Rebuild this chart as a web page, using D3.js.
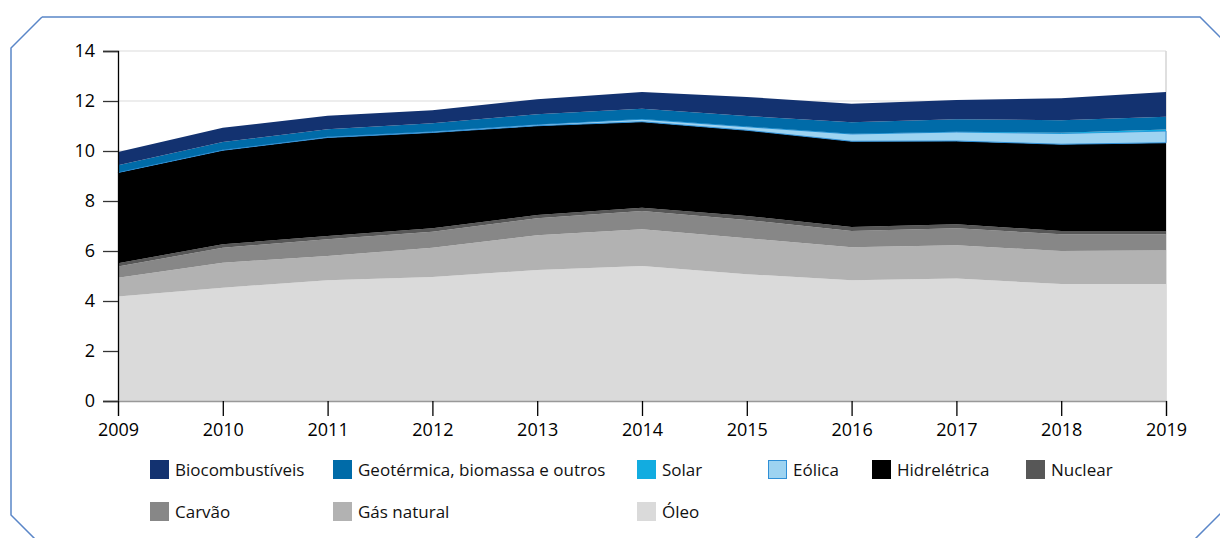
<!DOCTYPE html>
<html><head><meta charset="utf-8">
<script src="https://cdn.jsdelivr.net/npm/d3@7"></script>
<style>
html,body{margin:0;padding:0;background:#fff;}
svg{display:block;font-family:"Open Sans","Noto Sans",sans-serif;}
</style></head>
<body><svg id="c" width="1220" height="538"></svg>
<script>
const years = [2009,2010,2011,2012,2013,2014,2015,2016,2017,2018,2019];
const oleo     = [4.18,4.53,4.83,4.96,5.24,5.40,5.07,4.83,4.90,4.68,4.68];
const gas      = [0.75,1.00,0.97,1.17,1.39,1.47,1.44,1.32,1.33,1.32,1.35];
const carvao   = [0.45,0.60,0.67,0.64,0.68,0.73,0.73,0.65,0.68,0.67,0.64];
const nuclear  = [0.13,0.14,0.13,0.14,0.13,0.13,0.16,0.16,0.16,0.13,0.13];
const hidro    = [3.63,3.76,3.94,3.83,3.57,3.44,3.43,3.43,3.33,3.47,3.53];
const eolica   = [0.01,0.02,0.03,0.04,0.05,0.10,0.14,0.29,0.36,0.43,0.47];
const solar    = [0.00,0.00,0.00,0.00,0.00,0.01,0.01,0.01,0.01,0.03,0.06];
const geo      = [0.28,0.31,0.30,0.33,0.41,0.41,0.42,0.46,0.50,0.50,0.51];
const bio      = [0.53,0.57,0.54,0.52,0.60,0.67,0.76,0.74,0.77,0.88,0.99];
const yTicks = [0,2,4,6,8,10,12,14];

const series = [
  {key:"oleo", name:"Óleo", values:oleo, color:"#dadada"},
  {key:"gas", name:"Gás natural", values:gas, color:"#b2b2b2"},
  {key:"carvao", name:"Carvão", values:carvao, color:"#878787"},
  {key:"nuclear", name:"Nuclear", values:nuclear, color:"#575757"},
  {key:"hidro", name:"Hidrelétrica", values:hidro, color:"#000000"},
  {key:"eolica", name:"Eólica", values:eolica, color:"#9dd3f1", stroke:"#2f8fd6"},
  {key:"solar", name:"Solar", values:solar, color:"#12ace0"},
  {key:"geo", name:"Geotérmica, biomassa e outros", values:geo, color:"#006ba8"},
  {key:"bio", name:"Biocombustíveis", values:bio, color:"#133270"}
];

const table = years.map((yr,i)=>{const o={year:yr}; series.forEach(s=>o[s.key]=s.values[i]); return o;});
const stack = d3.stack().keys(series.map(s=>s.key));
const layers = stack(table);

const svg = d3.select("#c");
const x = d3.scaleLinear().domain([2009,2019]).range([118,1166]);
const y = d3.scaleLinear().domain([0,14]).range([401,51]);

// frame
svg.append("path")
  .attr("d", d3.line()([[42,17],[1200,17],[1240,57],[1240,494],[1189,545],[41,545],[11,515],[11,48],[42,17]]))
  .attr("fill","none").attr("stroke","#5a86c8").attr("stroke-width",1.5);

// gridlines
svg.append("g").selectAll("line").data(yTicks).join("line")
  .attr("x1",x(2009)).attr("x2",x(2019)).attr("y1",d=>y(d)).attr("y2",d=>y(d))
  .attr("stroke","#dcdcdc").attr("stroke-width",1.2);
svg.append("line").attr("x1",x(2019)).attr("x2",x(2019)).attr("y1",y(14)).attr("y2",y(0))
  .attr("stroke","#d4d4d4").attr("stroke-width",1.5);

const area = d3.area().x(d=>x(d.data.year)).y0(d=>y(d[0])).y1(d=>y(d[1]));
svg.append("g").selectAll("path").data(layers).join("path")
  .attr("d",area)
  .attr("fill",(d,i)=>series[i].color)
  .attr("stroke",(d,i)=>series[i].stroke||"none")
  .attr("stroke-width",(d,i)=>series[i].stroke?1:0);

// axes
const yAxis = svg.append("g").attr("transform",`translate(${x(2009)},0)`)
  .call(d3.axisLeft(y).tickValues(yTicks).tickSize(15).tickPadding(8).tickFormat(d3.format("d")));
yAxis.select(".domain").attr("stroke","#000").attr("stroke-width",1.3);
yAxis.selectAll(".tick line").attr("stroke","#333").attr("stroke-width",1.3);
yAxis.selectAll("text").attr("font-size",18).attr("fill","#000").attr("font-family","'Open Sans','Noto Sans',sans-serif");

const xAxis = svg.append("g").attr("transform",`translate(0,${y(0)})`)
  .call(d3.axisBottom(x).tickValues(years).tickSize(15).tickPadding(7).tickFormat(d3.format("d")));
xAxis.select(".domain").attr("stroke","#999").attr("stroke-width",1.3);
xAxis.selectAll(".tick line").attr("stroke","#000").attr("stroke-width",1.3);
xAxis.selectAll("text").attr("font-size",18).attr("fill","#000").attr("font-family","'Open Sans','Noto Sans',sans-serif");

// legend
const legendItems = [
  {s:"bio", x:150, row:0},{s:"geo", x:333, row:0},{s:"solar", x:637, row:0},
  {s:"eolica", x:768, row:0},{s:"hidro", x:872, row:0},{s:"nuclear", x:1026, row:0},
  {s:"carvao", x:150, row:1},{s:"gas", x:333, row:1},{s:"oleo", x:637, row:1}
];
const rowY = [460, 502];
const lg = svg.append("g");
legendItems.forEach(it=>{
  const s = series.find(q=>q.key===it.s);
  lg.append("rect").attr("x",it.x+(s.stroke?0.5:0)).attr("y",rowY[it.row]+(s.stroke?0.5:0))
    .attr("width",s.stroke?18:19).attr("height",s.stroke?18:19)
    .attr("fill",s.color).attr("stroke",s.stroke||"none").attr("stroke-width",1);
  lg.append("text").attr("x",it.x+25).attr("y",rowY[it.row]+16)
    .attr("font-size",17).attr("fill","#111").text(s.name);
});
</script></body></html>
